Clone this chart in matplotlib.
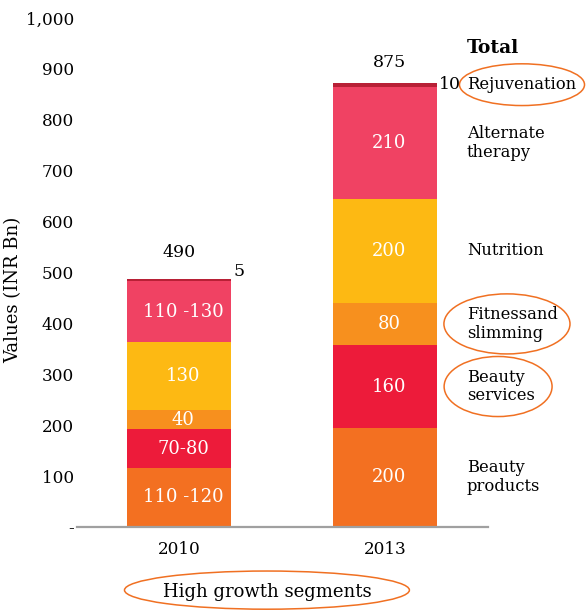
import matplotlib
matplotlib.use("Agg")
import matplotlib.pyplot as plt
from matplotlib.patches import Ellipse
import numpy as np

# ---- data ----
years = ["2010", "2013"]
segments = ["Beauty\nproducts", "Beauty\nservices", "Fitnessand\nslimming",
            "Nutrition", "Alternate\ntherapy", "Rejuvenation"]
values_2010 = [116, 76, 37, 134, 120, 5]
values_2013 = [195, 162, 84, 204, 219, 8]
labels_2010 = ["110 -120", "70-80", "40", "130", "110 -130", "5"]
labels_2013 = ["200", "160", "80", "200", "210", "10"]
totals = ["490", "875"]
colors = ["#F37021", "#ED1B3A", "#F7901E", "#FDB913", "#F04263", "#B82036"]
circled = ["Beauty\nservices", "Fitnessand\nslimming", "Rejuvenation"]

plt.rcParams["font.family"] = ["DejaVu Serif"]

fig = plt.figure(figsize=(5.86, 6.10), dpi=100)
ax = fig.add_axes([77 / 586, 1 - 527 / 610, 411 / 586, 509 / 610])

x = np.arange(len(years))
width = 0.505
data = np.array([values_2010, values_2013])
bottoms = np.zeros(len(years))
for i, seg in enumerate(segments):
    ax.bar(x, data[:, i], width, bottom=bottoms, color=colors[i], linewidth=0)
    # value labels inside (white), except the thin top slice
    for j in range(len(years)):
        lab = [labels_2010, labels_2013][j][i]
        mid = bottoms[j] + data[j, i] / 2
        if i < len(segments) - 1:
            ax.text(x[j] + 0.02, mid, lab, ha="center", va="center",
                    color="white", fontsize=13)
    bottoms = bottoms + data[:, i]

# thin top slice labels
ax.text(x[0] + width / 2 + 0.01, bottoms[0] + 14, labels_2010[-1],
        ha="left", va="center", fontsize=12.5)
ax.text(x[1] + width / 2 + 0.01, bottoms[1] - 3, labels_2013[-1],
        ha="left", va="center", fontsize=12.5)

# totals
ax.text(x[0], bottoms[0] + 52, totals[0], ha="center", va="center", fontsize=12.5)
ax.text(x[1] + 0.02, bottoms[1] + 40, totals[1], ha="center", va="center", fontsize=12.5)

# right-side segment names
lx = 1.398
ax.text(lx, 942, "Total", ha="left", va="center", fontsize=13.5, fontweight="bold")
cum = np.concatenate([[0], np.cumsum(values_2013)])
label_y = []
for i, seg in enumerate(segments):
    if i == len(segments) - 1:
        y = cum[-1] - 3
    else:
        y = (cum[i] + cum[i + 1]) / 2
    label_y.append(y)
    ax.text(lx, y, seg, ha="left", va="center", fontsize=11.8,
            linespacing=1.15, clip_on=False)

# ellipses around high growth segments
ell_sizes = {"Beauty\nservices": (1.549, 0.524, 118),
             "Fitnessand\nslimming": (1.592, 0.612, 118),
             "Rejuvenation": (1.665, 0.607, 82)}
for seg in circled:
    cx, w, h = ell_sizes[seg]
    cy = label_y[segments.index(seg)]
    ax.add_patch(Ellipse((cx, cy), w, h, fill=False, edgecolor="#F07022",
                         linewidth=1.1, clip_on=False))

# bottom legend ellipse
ax.add_patch(Ellipse((0.427, -124), 1.383, 75, fill=False, edgecolor="#F07022",
                     linewidth=1.1, clip_on=False))
ax.text(0.427, -128, "High growth segments", ha="center", va="center",
        fontsize=13, clip_on=False)

# axes styling
ax.set_xlim(-0.495, 1.5)
ax.set_ylim(0, 1000)
ax.set_xticks(x)
ax.set_xticklabels(years, fontsize=12.2)
yt = np.arange(0, 1001, 100)
ax.set_yticks(yt)
ax.set_yticklabels(["-"] + [f"{v:,}" for v in yt[1:]], fontsize=12.2)
ax.tick_params(axis="both", length=0)
ax.tick_params(axis="x", pad=10)
ax.tick_params(axis="y", pad=2)
for s in ["top", "right", "left"]:
    ax.spines[s].set_visible(False)
ax.spines["bottom"].set_color("#A0A0A0")
ax.spines["bottom"].set_linewidth(1.6)
ax.set_ylabel("Values (INR Bn)", fontsize=13)
ax.yaxis.set_label_coords(-0.132, 0.466)

fig.savefig("out.png", dpi=100)
